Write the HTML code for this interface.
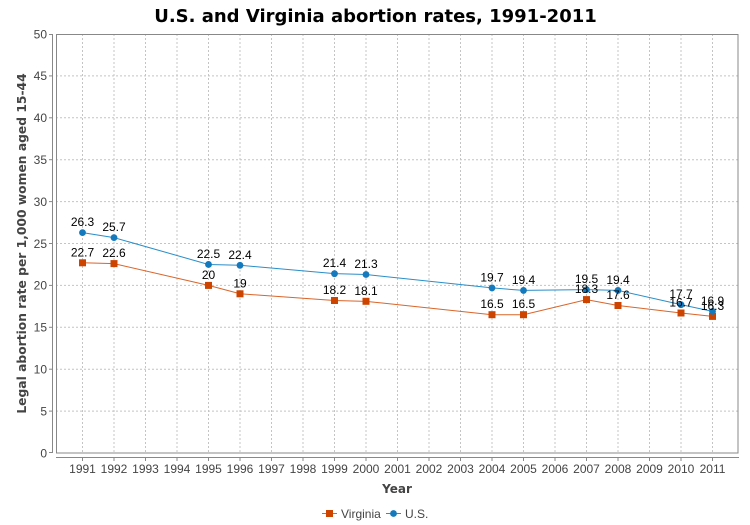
<!DOCTYPE html>
<html><head><meta charset="utf-8"><style>
html,body{margin:0;padding:0;background:#fff;}
svg{display:block;}
text{font-family:"Liberation Sans","DejaVu Sans",sans-serif;}
.dj{font-family:"DejaVu Sans","Liberation Sans",sans-serif;}
</style></head><body>
<svg width="750" height="525" viewBox="0 0 750 525" xmlns="http://www.w3.org/2000/svg">
<rect width="750" height="525" fill="#fff"/>
<text class="dj" x="375.5" y="22" text-anchor="middle" font-size="18" font-weight="bold" fill="#000">U.S. and Virginia abortion rates, 1991-2011</text>
<g stroke="#c4c4c4" stroke-width="1" stroke-dasharray="2,2" fill="none">
<line x1="56" y1="411.1" x2="738" y2="411.1"/><line x1="56" y1="369.2" x2="738" y2="369.2"/><line x1="56" y1="327.3" x2="738" y2="327.3"/><line x1="56" y1="285.4" x2="738" y2="285.4"/><line x1="56" y1="243.5" x2="738" y2="243.5"/><line x1="56" y1="201.6" x2="738" y2="201.6"/><line x1="56" y1="159.7" x2="738" y2="159.7"/><line x1="56" y1="117.8" x2="738" y2="117.8"/><line x1="56" y1="75.9" x2="738" y2="75.9"/>
<line x1="82.5" y1="34" x2="82.5" y2="453"/><line x1="114" y1="34" x2="114" y2="453"/><line x1="145.5" y1="34" x2="145.5" y2="453"/><line x1="177" y1="34" x2="177" y2="453"/><line x1="208.5" y1="34" x2="208.5" y2="453"/><line x1="240" y1="34" x2="240" y2="453"/><line x1="271.5" y1="34" x2="271.5" y2="453"/><line x1="303" y1="34" x2="303" y2="453"/><line x1="334.5" y1="34" x2="334.5" y2="453"/><line x1="366" y1="34" x2="366" y2="453"/><line x1="397.5" y1="34" x2="397.5" y2="453"/><line x1="429" y1="34" x2="429" y2="453"/><line x1="460.5" y1="34" x2="460.5" y2="453"/><line x1="492" y1="34" x2="492" y2="453"/><line x1="523.5" y1="34" x2="523.5" y2="453"/><line x1="555" y1="34" x2="555" y2="453"/><line x1="586.5" y1="34" x2="586.5" y2="453"/><line x1="618" y1="34" x2="618" y2="453"/><line x1="649.5" y1="34" x2="649.5" y2="453"/><line x1="681" y1="34" x2="681" y2="453"/><line x1="712.5" y1="34" x2="712.5" y2="453"/>
</g>
<rect x="56.5" y="34.5" width="681.5" height="418.5" fill="none" stroke="#888" stroke-width="1"/>
<g stroke="#888" stroke-width="1" fill="none">
<line x1="52.5" y1="34" x2="52.5" y2="453"/>
<line x1="56" y1="457.5" x2="739" y2="457.5"/>
<line x1="49" y1="34.5" x2="52" y2="34.5"/><line x1="49" y1="75.9" x2="52" y2="75.9"/><line x1="49" y1="117.8" x2="52" y2="117.8"/><line x1="49" y1="159.7" x2="52" y2="159.7"/><line x1="49" y1="201.6" x2="52" y2="201.6"/><line x1="49" y1="243.5" x2="52" y2="243.5"/><line x1="49" y1="285.4" x2="52" y2="285.4"/><line x1="49" y1="327.3" x2="52" y2="327.3"/><line x1="49" y1="369.2" x2="52" y2="369.2"/><line x1="49" y1="411.1" x2="52" y2="411.1"/><line x1="49" y1="452.5" x2="52" y2="452.5"/>
<line x1="82.5" y1="458" x2="82.5" y2="461"/><line x1="114" y1="458" x2="114" y2="461"/><line x1="145.5" y1="458" x2="145.5" y2="461"/><line x1="177" y1="458" x2="177" y2="461"/><line x1="208.5" y1="458" x2="208.5" y2="461"/><line x1="240" y1="458" x2="240" y2="461"/><line x1="271.5" y1="458" x2="271.5" y2="461"/><line x1="303" y1="458" x2="303" y2="461"/><line x1="334.5" y1="458" x2="334.5" y2="461"/><line x1="366" y1="458" x2="366" y2="461"/><line x1="397.5" y1="458" x2="397.5" y2="461"/><line x1="429" y1="458" x2="429" y2="461"/><line x1="460.5" y1="458" x2="460.5" y2="461"/><line x1="492" y1="458" x2="492" y2="461"/><line x1="523.5" y1="458" x2="523.5" y2="461"/><line x1="555" y1="458" x2="555" y2="461"/><line x1="586.5" y1="458" x2="586.5" y2="461"/><line x1="618" y1="458" x2="618" y2="461"/><line x1="649.5" y1="458" x2="649.5" y2="461"/><line x1="681" y1="458" x2="681" y2="461"/><line x1="712.5" y1="458" x2="712.5" y2="461"/>
</g>
<g font-size="12" fill="#444" text-anchor="end">
<text x="47" y="38.3">50</text><text x="47" y="80.2">45</text><text x="47" y="122.1">40</text><text x="47" y="164">35</text><text x="47" y="205.9">30</text><text x="47" y="247.8">25</text><text x="47" y="289.7">20</text><text x="47" y="331.6">15</text><text x="47" y="373.5">10</text><text x="47" y="415.4">5</text><text x="47" y="457.3">0</text>
</g>
<g font-size="12" fill="#444" text-anchor="middle">
<text x="82.5" y="473">1991</text><text x="114" y="473">1992</text><text x="145.5" y="473">1993</text><text x="177" y="473">1994</text><text x="208.5" y="473">1995</text><text x="240" y="473">1996</text><text x="271.5" y="473">1997</text><text x="303" y="473">1998</text><text x="334.5" y="473">1999</text><text x="366" y="473">2000</text><text x="397.5" y="473">2001</text><text x="429" y="473">2002</text><text x="460.5" y="473">2003</text><text x="492" y="473">2004</text><text x="523.5" y="473">2005</text><text x="555" y="473">2006</text><text x="586.5" y="473">2007</text><text x="618" y="473">2008</text><text x="649.5" y="473">2009</text><text x="681" y="473">2010</text><text x="712.5" y="473">2011</text>
</g>
<text class="dj" x="397" y="493" text-anchor="middle" font-size="12" font-weight="bold" fill="#444">Year</text>
<text class="dj" transform="translate(26,243.5) rotate(-90)" text-anchor="middle" font-size="12.3" font-weight="bold" fill="#444">Legal abortion rate per 1,000 women aged 15-44</text>
<polyline fill="none" stroke="#d9652a" stroke-width="1" points="82.5,262.77 114,263.61 208.5,285.4 240,293.78 334.5,300.48 366,301.32 492,314.73 523.5,314.73 586.5,299.65 618,305.51 681,313.05 712.5,316.41"/>
<polyline fill="none" stroke="#2a8ec8" stroke-width="1" points="82.5,232.61 114,237.63 208.5,264.45 240,265.29 334.5,273.67 366,274.51 492,287.91 523.5,290.43 586.5,289.59 618,290.43 681,304.67 712.5,311.38"/>
<g fill="#cc4400">
<rect x="79" y="259.3" width="7" height="7"/><rect x="110.5" y="260.1" width="7" height="7"/><rect x="205" y="281.9" width="7" height="7"/><rect x="236.5" y="290.3" width="7" height="7"/><rect x="331" y="297" width="7" height="7"/><rect x="362.5" y="297.8" width="7" height="7"/><rect x="488.5" y="311.2" width="7" height="7"/><rect x="520" y="311.2" width="7" height="7"/><rect x="583" y="296.1" width="7" height="7"/><rect x="614.5" y="302" width="7" height="7"/><rect x="677.5" y="309.5" width="7" height="7"/><rect x="709" y="312.9" width="7" height="7"/>
</g>
<g fill="#1479bd">
<circle cx="82.5" cy="232.61" r="3.4"/><circle cx="114" cy="237.63" r="3.4"/><circle cx="208.5" cy="264.45" r="3.4"/><circle cx="240" cy="265.29" r="3.4"/><circle cx="334.5" cy="273.67" r="3.4"/><circle cx="366" cy="274.51" r="3.4"/><circle cx="492" cy="287.91" r="3.4"/><circle cx="523.5" cy="290.43" r="3.4"/><circle cx="586.5" cy="289.59" r="3.4"/><circle cx="618" cy="290.43" r="3.4"/><circle cx="681" cy="304.67" r="3.4"/><circle cx="712.5" cy="311.38" r="3.4"/>
</g>
<g font-size="12" fill="#000" text-anchor="middle">
<text x="82.5" y="256.3">22.7</text><text x="114" y="257.1">22.6</text><text x="208.5" y="278.9">20</text><text x="240" y="287.3">19</text><text x="334.5" y="294">18.2</text><text x="366" y="294.8">18.1</text><text x="492" y="308.2">16.5</text><text x="523.5" y="308.2">16.5</text><text x="586.5" y="293.1">18.3</text><text x="618" y="299">17.6</text><text x="681" y="306.5">16.7</text><text x="712.5" y="309.9">16.3</text>
<text x="82.5" y="226.1">26.3</text><text x="114" y="231.1">25.7</text><text x="208.5" y="257.9">22.5</text><text x="240" y="258.8">22.4</text><text x="334.5" y="267.2">21.4</text><text x="366" y="268">21.3</text><text x="492" y="281.4">19.7</text><text x="523.5" y="283.9">19.4</text><text x="586.5" y="283.1">19.5</text><text x="618" y="283.9">19.4</text><text x="681" y="298.2">17.7</text><text x="712.5" y="304.9">16.9</text>
</g>
<line x1="322" y1="513.5" x2="337" y2="513.5" stroke="#d9652a" stroke-width="1"/>
<rect x="326" y="510" width="7" height="7" fill="#cc4400"/>
<text x="341" y="517.8" font-size="12" fill="#444">Virginia</text>
<line x1="386" y1="513.5" x2="401" y2="513.5" stroke="#2a8ec8" stroke-width="1"/>
<circle cx="393.5" cy="513.5" r="3.4" fill="#1479bd"/>
<text x="405" y="517.8" font-size="12" fill="#444">U.S.</text>
</svg>
</body></html>
